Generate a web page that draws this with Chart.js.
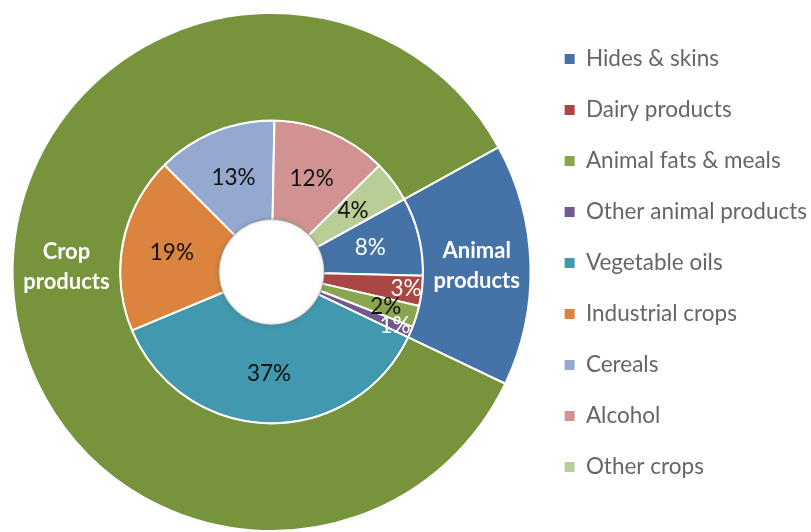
<!DOCTYPE html>
<html lang="en">
<head>
  <meta charset="UTF-8" />
  <title>Trade composition</title>
  <script src="https://cdn.jsdelivr.net/npm/chart.js@4.4.0/dist/chart.umd.min.js"></script>
  <style>
    html, body { margin: 0; padding: 0; background: #fff; }
    #wrap { width: 811px; height: 532px; position: relative; }
  </style>
</head>
<body>
  <div id="wrap">
    <canvas id="chart"></canvas>
  </div>

  <script>
    // outer ring: groups
    const groupLabels = ['Animal\nproducts', 'Crop\nproducts'];
    const groupValues = [15.1, 84.9];
    const groupColors = ['#4673A7', '#77933C'];

    // inner ring: products (share, %)
    const productLabels = ['Hides & skins', 'Dairy products', 'Animal fats & meals', 'Other animal products',
      'Vegetable oils', 'Industrial crops', 'Cereals', 'Alcohol', 'Other crops'];
    const productValues = [8.4, 3.2, 2.3, 1.2, 36.6, 18.8, 12.8, 12.3, 4.4];
    const productColors = ['#4572A7', '#AA4643', '#89A54E', '#71588F', '#4198AF', '#DB843D', '#93A9CF', '#D19392', '#B9CD96'];
    const productTextColors = ['#fff', '#fff', '#111', '#fff', '#111', '#111', '#111', '#111', '#111'];

    const FONT = 'Lato, "Open Sans", sans-serif';

    // label placement tweaks: inner ring radial position (0 = inner edge, 1 = outer edge),
    // outer ring vertical nudge in px
    const labelPlacement = { 1: 0.84, 2: 0.68, 3: 0.83 };
    const groupLabelNudge = [0, -11];

    const sliceLabels = {
      id: 'sliceLabels',
      afterDatasetsDraw(chart) {
        const ctx = chart.ctx;
        ctx.save();
        ctx.textAlign = 'center';
        ctx.textBaseline = 'middle';

        // outer ring
        chart.getDatasetMeta(0).data.forEach((arc, i) => {
          const p = arc.getProps(['x', 'y', 'startAngle', 'endAngle', 'innerRadius', 'outerRadius'], true);
          const a = (p.startAngle + p.endAngle) / 2;
          const r = (p.innerRadius + p.outerRadius) / 2;
          const cx = p.x + Math.cos(a) * r;
          const cy = p.y + Math.sin(a) * r + groupLabelNudge[i];
          ctx.fillStyle = '#fff';
          ctx.font = 'bold 22px ' + FONT;
          const lines = groupLabels[i].split('\n');
          lines.forEach((line, k) => {
            ctx.fillText(line, cx, cy + (k - (lines.length - 1) / 2) * 30);
          });
        });

        // inner ring
        chart.getDatasetMeta(1).data.forEach((arc, i) => {
          const p = arc.getProps(['x', 'y', 'startAngle', 'endAngle', 'innerRadius', 'outerRadius'], true);
          const a = (p.startAngle + p.endAngle) / 2;
          const r = p.innerRadius + (p.outerRadius - p.innerRadius) * (labelPlacement[i] ?? 0.5);
          ctx.fillStyle = productTextColors[i];
          ctx.font = '22.5px ' + FONT;
          ctx.fillText(Math.round(productValues[i]) + '%', p.x + Math.cos(a) * r, p.y + Math.sin(a) * r);
        });

        // soft shadow round the hole
        const m = chart.getDatasetMeta(1).data[0];
        ctx.beginPath();
        ctx.arc(m.x, m.y, m.innerRadius + 1, 0, Math.PI * 2);
        ctx.strokeStyle = 'rgba(120,120,120,0.35)';
        ctx.lineWidth = 2;
        ctx.shadowColor = 'rgba(0,0,0,0.35)';
        ctx.shadowBlur = 4;
        ctx.stroke();
        ctx.restore();
      }
    };

    new Chart(document.getElementById('chart'), {
      type: 'doughnut',
      data: {
        labels: productLabels,
        datasets: [
          {
            data: groupValues,
            backgroundColor: groupColors,
            borderColor: '#fff',
            borderWidth: 2,
            weight: 108
          },
          {
            data: productValues,
            backgroundColor: productColors,
            borderColor: '#fff',
            borderWidth: 2,
            weight: 100
          }
        ]
      },
      options: {
        responsive: true,
        maintainAspectRatio: false,
        animation: false,
        rotation: 61.2,
        cutout: '20%',
        layout: { padding: { top: 12, left: 7, bottom: 0, right: -6 } },
        plugins: {
          tooltip: { enabled: false },
          legend: {
            position: 'right',
            align: 'start',
            title: { display: true, text: ' ', font: { size: 1 }, padding: { top: 6, bottom: 0 } },
            labels: {
              boxWidth: 10,
              boxHeight: 10,
              padding: 28.5,
              color: '#222',
              font: { family: FONT, size: 22.5 },
              generateLabels: () => productLabels.map((text, i) => ({
                text,
                fillStyle: productColors[i],
                strokeStyle: productColors[i],
                lineWidth: 0,
                index: i
              }))
            }
          }
        }
      },
      plugins: [sliceLabels]
    });
  </script>
</body>
</html>
